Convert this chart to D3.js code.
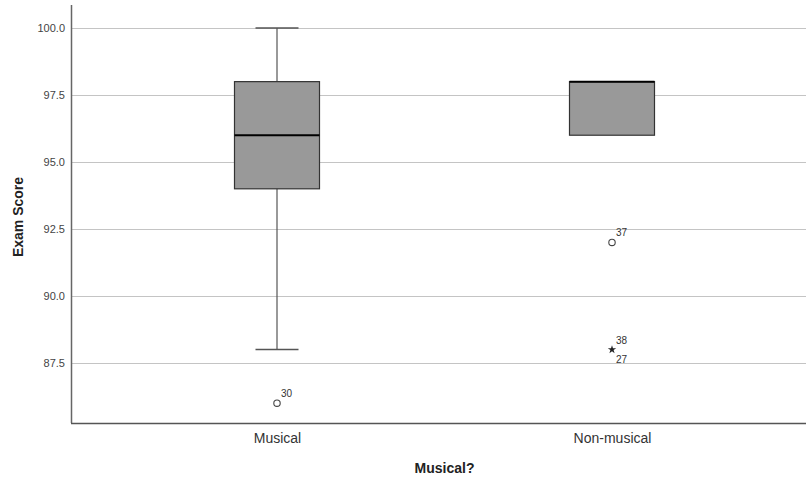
<!DOCTYPE html>
<html>
<head>
<meta charset="utf-8">
<script src="https://cdn.jsdelivr.net/npm/d3@7"></script>
<style>
  body { margin: 0; background: #fff; }
  text { font-family: "Liberation Sans", Arial, sans-serif; }
</style>
</head>
<body>
<svg id="chart" width="806" height="480"></svg>
<script>
// categories + box stats
const groups = ["Musical", "Non-musical"]
const whiskerLow = [88, 98]
const q1 = [94, 96]
const medians = [96, 98]
const q3 = [98, 98]
const whiskerHigh = [100, 98]
const yTicks = [87.5, 90.0, 92.5, 95.0, 97.5, 100.0]

// outliers: group, value, case labels, kind (o = outlier, * = extreme)
const outGroup = ["Musical", "Non-musical", "Non-musical"]
const outValue = [86, 92, 88]
const outLabels = [["30"], ["37"], ["38", "27"]]
const outKind = ["o", "o", "*"]

const boxes = groups.map((g, i) => ({
    g, lo: whiskerLow[i], q1: q1[i], med: medians[i], q3: q3[i], hi: whiskerHigh[i]
}))
const outliers = outGroup.map((g, i) => ({g, v: outValue[i], labels: outLabels[i], kind: outKind[i]}))

let svg = d3.select("#chart")

let mLeft = 71, mRight = 806, mTop = 5, mBottom = 423

let y = d3.scaleLinear()
    .domain([85.26, 100.86])
    .range([mBottom, mTop])

let x = d3.scalePoint()
    .domain(groups)
    .range([277, 612])

let boxW = 85, capW = 43

// gridlines
svg.append("g")
    .selectAll("line")
    .data(yTicks)
    .join("line")
    .attr("x1", mLeft)
    .attr("x2", mRight)
    .attr("y1", d => Math.round(y(d)) + 0.5)
    .attr("y2", d => Math.round(y(d)) + 0.5)
    .attr("stroke", "#c4c4c4")
    .attr("stroke-width", 1)

// y axis
let yAxis = svg.append("g")
    .attr("transform", `translate(${mLeft}, 0)`)
    .call(d3.axisLeft(y).tickValues(yTicks).tickFormat(d3.format(".1f")).tickSize(0).tickPadding(6))
yAxis.select(".domain").remove()
yAxis.selectAll("text")
    .attr("fill", "#444")
    .style("font-size", "11px")

// x axis
let xAxis = svg.append("g")
    .attr("transform", `translate(0, ${mBottom})`)
    .call(d3.axisBottom(x).tickSize(0).tickPadding(10))
xAxis.select(".domain").remove()
xAxis.selectAll("text")
    .attr("fill", "#333")
    .style("font-size", "14px")

// axis lines
svg.append("line")
    .attr("x1", mLeft + 0.5).attr("x2", mLeft + 0.5)
    .attr("y1", mTop).attr("y2", mBottom)
    .attr("stroke", "#666").attr("stroke-width", 1.5)
svg.append("line")
    .attr("x1", mLeft).attr("x2", mRight)
    .attr("y1", mBottom + 0.5).attr("y2", mBottom + 0.5)
    .attr("stroke", "#555").attr("stroke-width", 1.5)

// boxes
let bx = svg.append("g")
    .selectAll("g")
    .data(boxes)
    .join("g")

// whiskers
bx.filter(d => d.hi > d.q3).append("line")
    .attr("x1", d => x(d.g)).attr("x2", d => x(d.g))
    .attr("y1", d => y(d.hi)).attr("y2", d => y(d.q3))
    .attr("stroke", "#555").attr("stroke-width", 1.2)
bx.filter(d => d.lo < d.q1).append("line")
    .attr("x1", d => x(d.g)).attr("x2", d => x(d.g))
    .attr("y1", d => y(d.q1)).attr("y2", d => y(d.lo))
    .attr("stroke", "#555").attr("stroke-width", 1.2)
bx.filter(d => d.hi > d.q3).append("line")
    .attr("x1", d => x(d.g) - capW / 2).attr("x2", d => x(d.g) + capW / 2)
    .attr("y1", d => y(d.hi)).attr("y2", d => y(d.hi))
    .attr("stroke", "#555").attr("stroke-width", 1.5)
bx.filter(d => d.lo < d.q1).append("line")
    .attr("x1", d => x(d.g) - capW / 2).attr("x2", d => x(d.g) + capW / 2)
    .attr("y1", d => y(d.lo)).attr("y2", d => y(d.lo))
    .attr("stroke", "#555").attr("stroke-width", 1.5)

bx.append("rect")
    .attr("x", d => x(d.g) - boxW / 2)
    .attr("width", boxW)
    .attr("y", d => y(d.q3))
    .attr("height", d => y(d.q1) - y(d.q3))
    .attr("fill", "#999999")
    .attr("stroke", "#333")
    .attr("stroke-width", 1.2)

bx.append("line")
    .attr("x1", d => x(d.g) - boxW / 2).attr("x2", d => x(d.g) + boxW / 2)
    .attr("y1", d => y(d.med)).attr("y2", d => y(d.med))
    .attr("stroke", "#000").attr("stroke-width", 2)

// outliers
let og = svg.append("g")
    .selectAll("g")
    .data(outliers)
    .join("g")
    .attr("transform", d => `translate(${x(d.g)}, ${y(d.v)})`)

og.filter(d => d.kind === "o").append("circle")
    .attr("r", 3.2)
    .attr("fill", "none")
    .attr("stroke", "#444")
    .attr("stroke-width", 1.1)

og.filter(d => d.kind === "*").append("path")
    .attr("d", d3.symbol(d3.symbolStar, 22))
    .attr("fill", "#222")

og.each(function (d) {
    let g = d3.select(this)
    d.labels.forEach((l, i) => {
        g.append("text")
            .attr("x", 4)
            .attr("y", i === 0 ? -6 : 13)
            .attr("fill", "#333")
            .style("font-size", "10px")
            .text(l)
    })
})

// titles
svg.append("text")
    .attr("transform", `translate(23, 217) rotate(-90)`)
    .attr("text-anchor", "middle")
    .style("font-size", "14px")
    .style("font-weight", "bold")
    .attr("fill", "#222")
    .text("Exam Score")

svg.append("text")
    .attr("x", (mLeft + mRight) / 2 + 6)
    .attr("y", 473)
    .attr("text-anchor", "middle")
    .style("font-size", "14px")
    .style("font-weight", "bold")
    .attr("fill", "#222")
    .text("Musical?")
</script>
</body>
</html>
